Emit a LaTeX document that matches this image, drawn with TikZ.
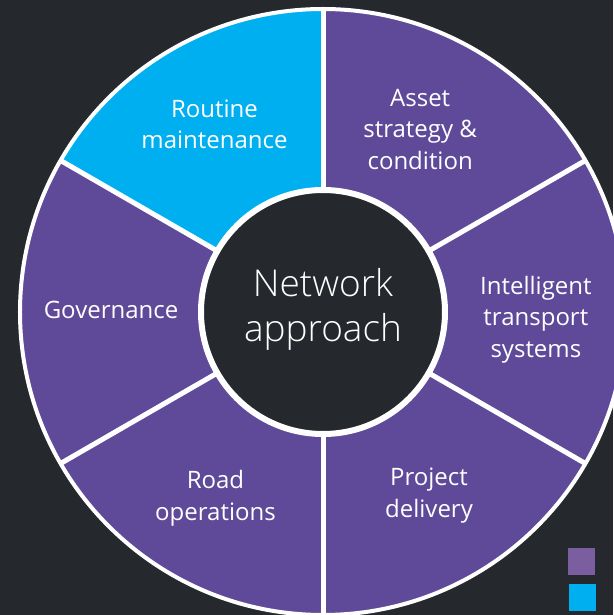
\documentclass[tikz,border=0pt]{standalone}
\usepackage{fontspec}
\setmainfont{Open Sans}
\IfFontExistsTF{Open Sans Light}{\newfontfamily\hubfont{Open Sans Light}}{\newfontfamily\hubfont{Open Sans}}
\definecolor{bgdark}{HTML}{25282C}
\definecolor{netpurple}{HTML}{5F4A9A}
\definecolor{netcyan}{HTML}{00AFEF}
\definecolor{keypurple}{HTML}{7A5E9F}
\begin{document}
\begin{tikzpicture}[x=1pt,y=1pt,
    sector/.style={text=white, align=center, font=\fontsize{24}{31.5}\selectfont},
    divider/.style={white, line width=5pt}]
      \fill[bgdark] (-323,-303) rectangle (290,312);
      \useasboundingbox (-323,-303) rectangle (290,312);
      % the six slices
      \fill[netpurple] (0,0) -- (150:303) arc (150:450:303) -- cycle;
      \fill[netcyan] (0,0) -- (90:303) arc (90:150:303) -- cycle;
      \draw[white, line width=4pt] (0,0) circle (303);
      \foreach \a in {30,90,...,330}
        \draw[divider] (0,0) -- (\a:303);
      \node[circle, draw=white, line width=6pt, fill=bgdark, minimum size=244pt] (hub) at (0,0) {};
      \node[text=white, align=center, font=\hubfont\fontsize{37}{45}\selectfont] at (0,3) {Network\\approach};
      \draw
        (120.0:217) node[sector] (routine){Routine\\maintenance}
        (62.0:207) node[sector] (asset){Asset\\strategy \&\\condition}
        (-2.0:213) node[sector] (its){Intelligent\\transport\\systems}
        (-60.0:212) node[sector] (project){Project\\delivery}
        (-120.0:215) node[sector] (roadops){Road\\operations}
        (179.5:212) node[sector] (governance){Governance};
      % key
      \fill[keypurple] (245,-263) rectangle (272,-236);
      \fill[netcyan] (246,-299) rectangle (273,-272);
    \end{tikzpicture}
\end{document}
